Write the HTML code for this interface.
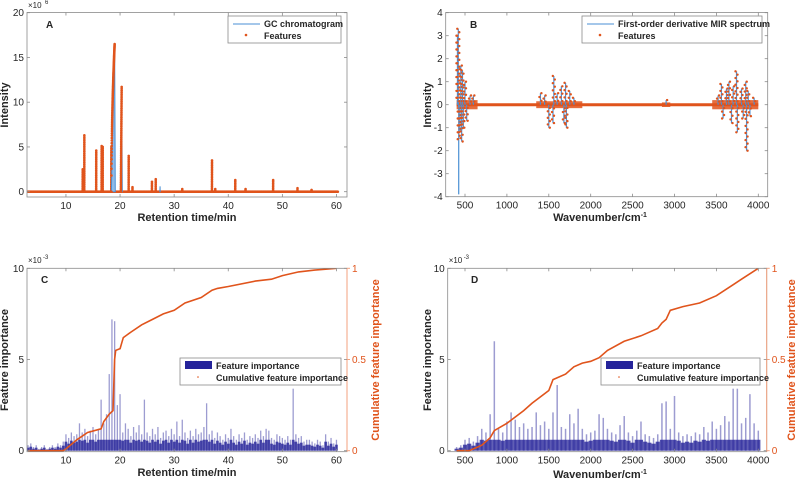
<!DOCTYPE html>
<html><head><meta charset="utf-8"><style>
body{margin:0;background:#fff;}
svg{display:block;font-family:"Liberation Sans",Arial,sans-serif;}
</style></head><body>
<svg id="fig" width="800" height="482" viewBox="0 0 800 482"></svg>
<script>
// ---- Panel A data: GC chromatogram peaks (time min, height x1e6, half-width min)
const peakTimes=[13.1,13.4,15.6,16.6,16.8,18.4,19.0,20.3,21.6,22.3,25.9,26.6,27.4,31.5,37.0,37.6,41.3,43.2,48.3,52.8,55.4];
const peakHeights=[2.5,6.3,4.6,5.1,5.0,5.0,16.5,11.7,4.0,0.5,1.1,1.4,0.6,0.3,3.5,0.3,1.3,0.3,1.3,0.4,0.2];
const peakWidths=[0.05,0.06,0.06,0.05,0.05,0.1,0.6,0.15,0.05,0.04,0.05,0.05,0.04,0.1,0.06,0.05,0.05,0.1,0.05,0.05,0.1];
// ---- Panel B data: derivative MIR spikes
const spikeWaves=[410,420,425,440,450,460,470,480,500,520,560,600,1400,1450,1500,1550,1560,1600,1650,1680,1700,1710,1750,1800,2900,3520,3560,3580,3620,3650,3680,3700,3740,3750,3800,3820,3850,3860,3880,3900,3950];
const spikeValues=[3.0,3.3,-3.9,-1.2,1.7,-1.6,1.5,-1.0,1.0,-0.7,0.4,0.4,0.5,0.4,-1.0,-0.8,1.25,0.5,0.8,-0.8,0.95,-1.0,0.6,0.3,0.2,0.4,0.9,-0.6,0.7,1.0,-0.8,0.8,1.45,-1.2,0.7,-0.6,1.0,-2.0,0.6,-0.5,0.3];
const noiseStart=[400,1350,2850,3450];
const noiseEnd=[650,1900,2950,4000];
const noiseAmp=[0.2,0.15,0.1,0.2];
// ---- Panel C data: feature importance (x1e-3) from 3 to 60 min, step 0.5
const cStart=3,cStep=0.5;
const cImportance=[0.3,0.4,0.2,0.3,0.1,0.2,0.3,0.1,0.2,0.3,0.2,0.4,0.3,0.5,
0.9,0.7,1.0,0.8,0.9,1.5,1.0,1.2,0.8,1.1,
1.3,0.9,1.2,2.8,1.5,2.0,4.2,7.2,7.1,2.5,
3.1,1.0,1.5,1.2,0.8,1.3,1.0,1.4,0.9,2.8,
1.0,0.8,1.2,0.9,1.3,0.7,1.0,1.1,0.8,1.2,
0.9,1.6,0.8,1.7,1.0,0.7,1.1,0.8,1.2,0.9,
1.0,1.3,2.6,0.9,1.1,0.7,1.0,0.8,0.6,0.9,
0.7,1.2,0.8,0.6,0.9,0.7,1.0,0.6,0.8,0.7,
0.9,0.7,1.1,0.8,1.2,1.1,0.7,0.6,0.9,0.8,
0.7,0.6,0.8,0.6,3.4,0.9,0.7,0.8,0.5,0.6,
0.6,0.5,0.4,0.6,0.5,0.3,0.9,0.5,0.7,0.4,0.6];
const cCumX=[3,9.5,10,12,14,16.5,17,18,18.7,19,19.2,20,20.4,20.6,22,24,26,28,30,32,35,37,38,40,45,48,50,53,56,60];
const cCumY=[0,0,0.01,0.06,0.1,0.12,0.16,0.2,0.22,0.5,0.55,0.56,0.6,0.62,0.65,0.69,0.72,0.75,0.77,0.81,0.84,0.88,0.89,0.9,0.93,0.94,0.96,0.98,0.99,1.0];
// ---- Panel D data: feature importance (x1e-3) from 400 to 4000 cm-1, step 50
const dStart=400,dStep=50;
const dImportance=[0.2,0.3,0.6,0.7,0.5,0.8,1.2,1.0,2.0,6.0,
1.2,1.0,1.6,2.1,1.7,1.3,1.5,1.2,1.3,2.1,
1.4,1.6,1.2,2.1,3.6,1.3,1.2,2.0,1.5,2.3,
1.2,0.9,1.0,1.1,2.0,1.8,1.2,1.0,0.9,1.4,
1.9,1.0,0.8,1.1,1.6,0.9,0.8,0.7,0.9,2.6,
2.7,1.2,3.0,1.0,0.8,0.9,0.8,1.0,0.9,1.3,
1.0,1.6,1.2,1.4,1.9,1.6,3.4,3.4,1.5,1.8,
3.1,1.5,1.1];
const dCumX=[400,550,600,700,800,850,1000,1200,1300,1500,1550,1700,1800,1900,2000,2100,2200,2400,2600,2800,2850,2900,2950,3100,3300,3500,3700,3800,4000];
const dCumY=[0,0,0.01,0.03,0.07,0.11,0.15,0.22,0.26,0.33,0.39,0.42,0.46,0.48,0.49,0.51,0.55,0.6,0.63,0.67,0.7,0.72,0.77,0.79,0.81,0.85,0.91,0.94,1.0];
const xTicksA=[10,20,30,40,50,60];
const yTicksA=[0,5,10,15,20];
const xTicksB=[500,1000,1500,2000,2500,3000,3500,4000];
const yTicksB=[-4,-3,-2,-1,0,1,2,3,4];
const yTicksC=[0,5,10];
const yTicksR=[0,0.5,1];

const NS="http://www.w3.org/2000/svg";
const svg=document.getElementById('fig');
const BLUE="#4a8fd4",ORANGE="#e0541c",NAVY="#25239a",GRAY="#262626";
function mk(tag,attrs,parent){const e=document.createElementNS(NS,tag);for(const k in attrs)e.setAttribute(k,attrs[k]);(parent||svg).appendChild(e);return e;}
function txt(s,x,y,opt,parent){const t=mk('text',Object.assign({x:x,y:y,'font-size':10,fill:GRAY},opt||{}),parent);t.textContent=s;return t;}

const xT=t=>27+(t-2.8)*5.41;
const xW=w=>465+(w-500)*0.0838;
const yA=v=>191.7-v/20*179;
const yB=v=>104.7-v*23;
const yCL=v=>450.7-v/10*182.4;
const yCR=c=>450.7-c*182.4;

function box(g,x0,x1,y0,y1,name){
  const r=mk('rect',{x:x0,y:y0,width:x1-x0,height:y1-y0,fill:'none',stroke:'#8a8a8a','stroke-width':0.8},g);
  
  
}
function xticks(g,ticks,sx,y0,y1,name){
  const gg=mk('g',{},g);
  
  
  ticks.forEach(t=>{const x=sx(t);
    mk('line',{x1:x,x2:x,y1:y1,y2:y1-3,stroke:'#8a8a8a','stroke-width':0.8},gg);
    mk('line',{x1:x,x2:x,y1:y0,y2:y0+3,stroke:'#8a8a8a','stroke-width':0.8},gg);
    txt(String(t),x,y1+12,{'text-anchor':'middle','font-size':10},gg);});
}
function yticks(g,ticks,sy,x0,x1,name){
  const gg=mk('g',{},g);
  
  
  ticks.forEach(t=>{const y=sy(t);
    mk('line',{x1:x0,x2:x0+3,y1:y,y2:y,stroke:'#8a8a8a','stroke-width':0.8},gg);
    mk('line',{x1:x1,x2:x1-3,y1:y,y2:y,stroke:'#8a8a8a','stroke-width':0.8},gg);
    txt(String(t),x0-3,y+3.5,{'text-anchor':'end','font-size':10},gg);});
}
function clip(id,x0,x1,y0,y1){const cp=mk('clipPath',{id:id});mk('rect',{x:x0,y:y0,width:x1-x0,height:y1-y0},cp);}
function legend(g,x0,y0,w,lab1,lab2,kind1,name){
  const gg=mk('g',{},g);
  
  
  mk('rect',{x:x0,y:y0,width:w,height:27,fill:'#fff',stroke:'#8a8a8a','stroke-width':0.8},gg);
  if(kind1==='line'){mk('line',{x1:x0+5,x2:x0+32,y1:y0+8,y2:y0+8,stroke:BLUE,'stroke-width':1},gg);
    mk('circle',{cx:x0+18,cy:y0+19,r:1.3,fill:ORANGE},gg);}
  else{mk('rect',{x:x0+5,y:y0+3,width:27,height:8,fill:NAVY},gg);
    mk('circle',{cx:x0+18,cy:y0+19,r:0.8,fill:ORANGE},gg);}
  txt(lab1,x0+36,y0+11,{'font-size':9,'font-weight':'bold'},gg);
  txt(lab2,x0+36,y0+23,{'font-size':9,'font-weight':'bold'},gg);
}
function rotTitle(g,s,x,y,color,name){
  const t=txt(s,0,0,{'font-size':11,'font-weight':'bold','text-anchor':'middle',fill:color||GRAY,transform:`translate(${x},${y}) rotate(-90)`},g);
  
  
}
function title(g,s,x,y,name,extra){
  const t=txt(s,x,y,{'font-size':11,'font-weight':'bold','text-anchor':'middle'},g);
  
  
  if(extra){const ts=document.createElementNS(NS,'tspan');ts.setAttribute('dy',-4);ts.setAttribute('font-size',7);ts.textContent=extra;t.appendChild(ts);}
}

clip('cA',27,347,12.5,197);clip('cB',445.7,767.7,12.5,196.7);
clip('cC',27,347,268.3,451.7);clip('cD',447.7,766.7,268.3,451.7);

// ===== Panel A =====
const gA=mk('g',{});


{
  const pl=mk('g',{'clip-path':'url(#cA)'},gA);
  
  
  mk('line',{x1:xT(3),x2:xT(60.5),y1:yA(0),y2:yA(0),stroke:BLUE,'stroke-width':1},pl);
  for(let t=3;t<=60.3;t+=0.12){mk('circle',{cx:xT(t),cy:yA(0),r:1.3,fill:ORANGE},pl);}
  peakTimes.forEach((t,i)=>{
    const h=peakHeights[i],w=peakWidths[i];
    const wide=w>=0.15;
    const p=mk('path',{d:`M${xT(t-w)},${yA(0)} L${xT(t)},${yA(h)} L${xT(t+(wide?0.12:w*0.3))},${yA(0)} Z`,fill:'#8fbbe8',stroke:BLUE,'stroke-width':1},pl);
    
    
    if(i!==12){const n=Math.max(2,Math.round(h/0.2));
      for(let k=0;k<=n;k++){const f=k/n;const tt=t-w*(1-f)*(wide?1:0.2);
        mk('circle',{cx:xT(tt),cy:yA(h*(w>0.3?Math.sqrt(f):f)),r:1.3,fill:ORANGE},pl);}}
  });
  box(gA,27,347,12.5,197,'plot-area-a');
  xticks(gA,xTicksA,xT,12.5,197,'x-axis-a');
  yticks(gA,yTicksA,yA,27,347,'y-axis-a');
  txt('×10',28,8,{'font-size':8},gA);txt('6',45,4,{'font-size':6},gA);
  title(gA,'Retention time/min',187,221,'x-axis-title-a');
  rotTitle(gA,'Intensity',8,105,null,'y-axis-title-a');
  txt('A',46,28,{'font-size':10,'font-weight':'bold'},gA);
  legend(gA,228,16,113,'GC chromatogram','Features','line','legend-a');
}
// ===== Panel B =====
const gB=mk('g',{});


{
  const pl=mk('g',{'clip-path':'url(#cB)'},gB);
  
  
  mk('line',{x1:xW(400),x2:xW(4000),y1:yB(0),y2:yB(0),stroke:ORANGE,'stroke-width':3},pl);
  noiseStart.forEach((s,i)=>{
    mk('rect',{x:xW(s),y:yB(noiseAmp[i]),width:xW(noiseEnd[i])-xW(s),height:yB(-noiseAmp[i])-yB(noiseAmp[i]),fill:ORANGE,opacity:0.85},pl);});
  spikeWaves.forEach((w,i)=>{
    const l=mk('line',{x1:xW(w),x2:xW(w),y1:yB(0),y2:yB(spikeValues[i]),stroke:BLUE,'stroke-width':1.2},pl);
    
    
    const n=Math.max(1,Math.round(Math.abs(spikeValues[i])/0.15));
    for(let k=1;k<=n;k++){if(i===2&&k>n*0.4)break;
      mk('circle',{cx:xW(w)+(k%2?1:-1),cy:yB(spikeValues[i]*k/n),r:1.2,fill:ORANGE},pl);}
  });
  box(gB,445.7,767.7,12.5,196.7,'plot-area-b');
  xticks(gB,xTicksB,xW,12.5,196.7,'x-axis-b');
  yticks(gB,yTicksB,yB,445.7,767.7,'y-axis-b');
  title(gB,'Wavenumber/cm',600,221,'x-axis-title-b','-1');
  rotTitle(gB,'Intensity',431,105,null,'y-axis-title-b');
  txt('B',470,28,{'font-size':10,'font-weight':'bold'},gB);
  legend(gB,582,16,180,'First-order derivative MIR spectrum','Features','line','legend-b');
}
// ===== Panel C/D helper =====
function importancePanel(g,vals,start,step,sx,bw,cumX,cumY,cid,x0,x1){
  const pl=mk('g',{'clip-path':`url(#${cid})`},g);
  
  
  const full=Math.abs(sx(start+step)-sx(start));
  vals.forEach((v,i)=>{
    const x=sx(start+i*step);
    const dv=Math.min(v*0.55,0.6);
    mk('rect',{x:x-full/2,y:yCL(dv),width:full,height:yCL(0)-yCL(dv),fill:NAVY,opacity:0.8},pl);
    const r=mk('rect',{x:x-bw/2,y:yCL(v),width:bw,height:yCL(0)-yCL(v),fill:NAVY,opacity:0.45},pl);
    
    
  });
  const pts=cumX.map((c,i)=>`${sx(c).toFixed(1)},${yCR(cumY[i]).toFixed(1)}`).join(' ');
  const cl=mk('polyline',{points:pts,fill:'none',stroke:ORANGE,'stroke-width':1.6},pl);
  
  
  box(g,x0,x1,268.3,451.7,'plot-area');
  const ra=mk('line',{x1:x1,x2:x1,y1:268.3,y2:451.7,stroke:'#f3a27f','stroke-width':1},g);
  
  
  yticks(g,yTicksC,yCL,x0,x1,'left-y-axis');
  const rg=mk('g',{},g);
  
  
  yTicksR.forEach(t=>{mk('line',{x1:x1,x2:x1+3,y1:yCR(t),y2:yCR(t),stroke:'#f3a27f'},rg);
    txt(String(t),x1+5,yCR(t)+3.5,{fill:ORANGE,'font-size':10},rg);});
  txt('×10',x0+1,263,{'font-size':8},g);txt('-3',x0+16,259,{'font-size':6},g);
}
const gC=mk('g',{});


importancePanel(gC,cImportance,cStart,cStep,xT,1.3,cCumX,cCumY,'cC',27,347);
xticks(gC,xTicksA,xT,268.3,451.7,'x-axis-c');
title(gC,'Retention time/min',187,476,'x-axis-title-c');
rotTitle(gC,'Feature importance',8,360,null,'y-axis-title-c');
rotTitle(gC,'Cumulative feature importance',379,360,ORANGE,'right-y-axis-title-c');
txt('C',41,283,{'font-size':10,'font-weight':'bold'},gC);
legend(gC,180,358,161,'Feature importance','Cumulative feature importance','bar','legend-c');

const gD=mk('g',{});


importancePanel(gD,dImportance,dStart,dStep,xW,1.5,dCumX,dCumY,'cD',447.7,766.7);
xticks(gD,xTicksB,xW,268.3,451.7,'x-axis-d');
title(gD,'Wavenumber/cm',600,478,'x-axis-title-d','-1');
rotTitle(gD,'Feature importance',431,360,null,'y-axis-title-d');
rotTitle(gD,'Cumulative feature importance',795,360,ORANGE,'right-y-axis-title-d');
txt('D',471,283,{'font-size':10,'font-weight':'bold'},gD);
legend(gD,601,358,159,'Feature importance','Cumulative feature importance','bar','legend-d');
</script>
</body></html>
